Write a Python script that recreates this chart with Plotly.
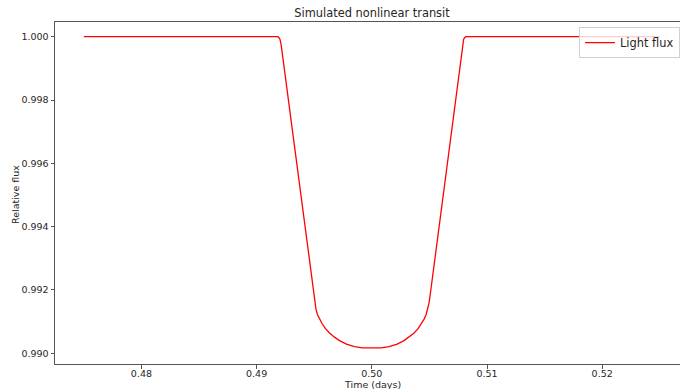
import plotly.graph_objects as go

# Time (days) and relative flux
time_days = [
    0.4750, 0.49184, 0.49194, 0.49203, 0.49212, 0.49220, 0.49242, 0.49277, 0.49312,
    0.49346, 0.49381, 0.49416, 0.49451, 0.49485, 0.49503, 0.49516, 0.49529, 0.49546,
    0.49568, 0.49598, 0.49633, 0.49676, 0.49720, 0.49780, 0.49850, 0.49919, 0.50000,
    0.50081, 0.50150, 0.50220, 0.50280, 0.50324, 0.50367, 0.50402, 0.50432, 0.50454,
    0.50471, 0.50484, 0.50497, 0.50515, 0.50549, 0.50584, 0.50619, 0.50654, 0.50688,
    0.50723, 0.50758, 0.50780, 0.50788, 0.50797, 0.50806, 0.50816, 0.5250,
]
rel_flux = [
    1.00000, 1.00000, 0.99997, 0.99991, 0.99977, 0.99955, 0.99879, 0.99783, 0.99687,
    0.99591, 0.99495, 0.99399, 0.99303, 0.99207, 0.99159, 0.99138, 0.99122, 0.99108,
    0.99094, 0.99078, 0.99064, 0.99051, 0.99040, 0.99029, 0.99021, 0.99017, 0.99016,
    0.99017, 0.99021, 0.99029, 0.99040, 0.99051, 0.99064, 0.99078, 0.99094, 0.99108,
    0.99122, 0.99138, 0.99159, 0.99207, 0.99303, 0.99399, 0.99495, 0.99591, 0.99687,
    0.99783, 0.99879, 0.99955, 0.99977, 0.99991, 0.99997, 1.00000, 1.00000,
]

x_ticks = [0.48, 0.49, 0.50, 0.51, 0.52]
y_ticks = [0.990, 0.992, 0.994, 0.996, 0.998, 1.000]

FONT = "DejaVu Sans"
TXT = "#262626"
SPINE = "#555555"
PLOT_H = 342.0
PLOT_W = 625.0

fig = go.Figure()
fig.add_trace(go.Scatter(
    x=time_days, y=rel_flux, mode="lines", name="Light flux",
    line=dict(color="#ff0000", width=1.3),
))

fig.update_layout(
    width=680, height=389,
    margin=dict(l=55, r=0, t=22, b=25),
    paper_bgcolor="white", plot_bgcolor="white",
    font=dict(family=FONT, size=9.5, color=TXT),
    title=dict(text="Simulated nonlinear transit", x=(372 / 680), xanchor="center",
               y=1 - 13 / 389, yanchor="middle", font=dict(size=11.4, color=TXT)),
    showlegend=True,
    legend=dict(x=1, xanchor="right", y=0.985, yanchor="top",
                bgcolor="rgba(255,255,255,0.8)", bordercolor="#d0d0d0", borderwidth=1,
                font=dict(size=11.4, color=TXT), itemwidth=30),
    xaxis=dict(
        range=[0.4725, 0.4725 + 625 / 11520],
        tickvals=x_ticks, tickformat=".2f",
        showgrid=False, zeroline=False,
        showline=True, linecolor=SPINE, linewidth=1, mirror=True,
        ticks="outside", ticklen=3.5, tickcolor=SPINE, tickwidth=1,
        ticklabelstandoff=-3,
        automargin=False,
    ),
    yaxis=dict(
        range=[0.989662, 1.000464],
        tickvals=y_ticks, tickformat=".3f",
        showgrid=False, zeroline=False,
        showline=True, linecolor=SPINE, linewidth=1, mirror=False,
        ticks="outside", ticklen=3.5, tickcolor=SPINE, tickwidth=1,
        automargin=False,
    ),
    annotations=[
        dict(text="Time (days)", xref="paper", yref="paper",
             x=(372 - 55) / PLOT_W, y=-(384.5 - 364) / PLOT_H,
             xanchor="center", yanchor="middle", showarrow=False,
             font=dict(size=9.5, color=TXT)),
        dict(text="Relative flux", xref="paper", yref="paper",
             x=-(55 - 16) / PLOT_W, y=(364 - 195) / PLOT_H,
             xanchor="center", yanchor="middle", showarrow=False, textangle=-90,
             font=dict(size=9.5, color=TXT)),
    ],
)

fig.write_html(
    "out.html",
    config={"displayModeBar": False},
    post_script="document.body.style.margin='0';document.body.style.overflow='hidden';",
)
